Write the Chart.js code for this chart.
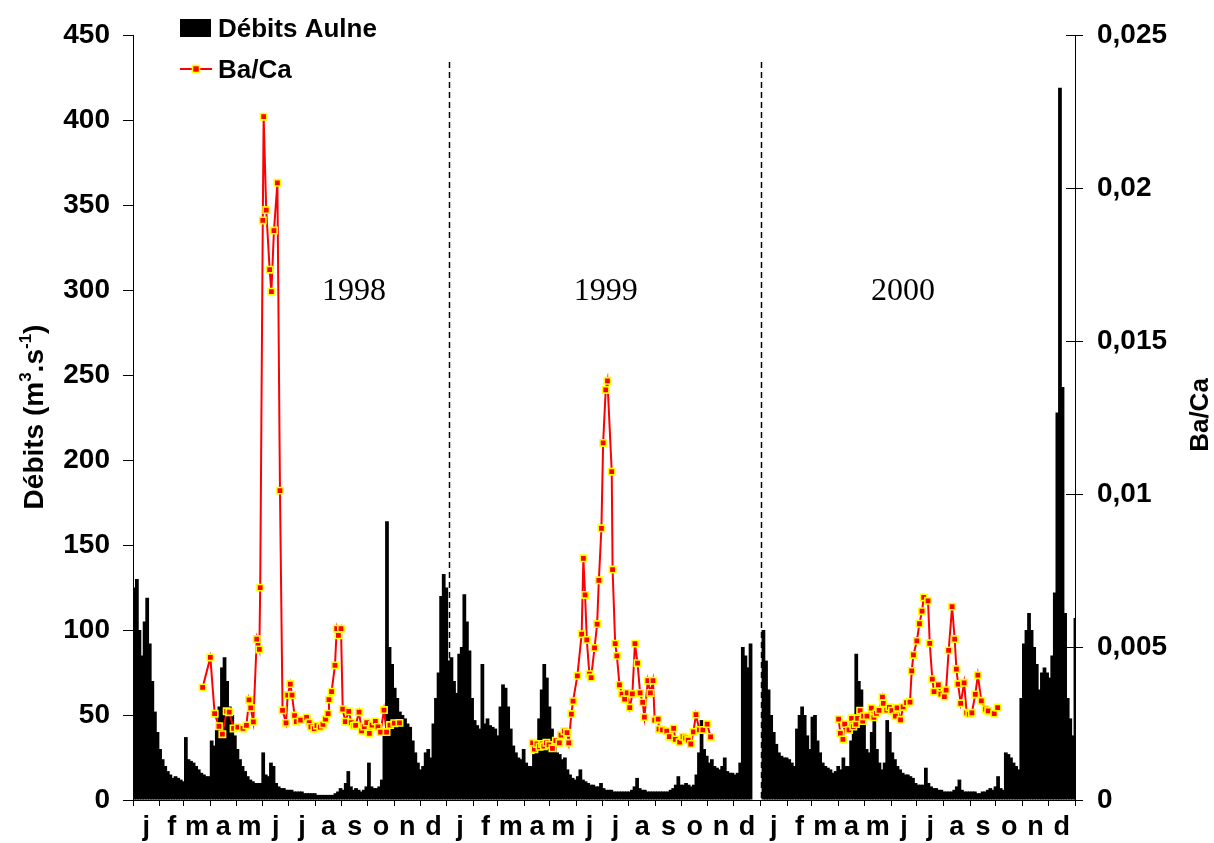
<!DOCTYPE html>
<html lang="fr">
<head>
<meta charset="UTF-8">
<title>Débits Aulne et Ba/Ca</title>
<style>
  html, body { margin: 0; padding: 0; background: #fff; }
  #cadre { width: 1214px; height: 843px; position: relative; }
</style>
</head>
<body>
<div id="cadre"><canvas id="graphe"></canvas></div>

<script src="https://cdn.jsdelivr.net/npm/chart.js"></script>
<script>
// débits de l'Aulne (m3/s), un pas = 3 jours, à partir du 1er janvier de chaque année
const debits1998 = [125,130,100,85,105,119,92,70,52,40, 30,24,20,17,15,13,14,13,12,11,
  37,24,23,22,20,18,16,15,14,14, 35,32,42,55,78,84,70,55,50,38,
  30,24,20,17,14,12,11,10,10,10, 28,15,14,22,20,10,8,7,7,6,
  6,6,5,5,5,5,4,4,4,4, 4,3,3,3,3,3,3,3,4,5,
  7,6,10,17,8,6,7,6,5,6, 8,22,8,7,7,8,12,40,164,90,
  80,66,60,52,50,48,45,43,35,28, 22,18,20,28,30,25,45,60,75,120,133,125]
const debits1999 = [82,84,70,63,86,90,121,105,88,60, 47,44,42,80,45,48,44,43,42,38,
  55,68,66,55,42,32,28,25,24,30, 22,20,20,27,35,48,65,80,72,55,
  42,32,28,27,24,25,18,15,13,12, 14,18,12,11,10,9,9,8,8,10,
  7,6,6,6,5,5,5,5,5,5, 5,6,8,13,7,6,6,5,5,5,
  5,5,5,5,5,5,6,7,9,14, 9,9,10,9,8,9,15,28,47,30,
  26,22,24,20,19,18,20,25,17,16, 16,15,16,22,90,85,78,92,null,null,null,null]
const debits2000 = [100,82,65,50,40,33,28,26,25,25, 24,22,20,42,50,55,50,38,30,49,
  50,35,28,22,20,19,18,16,17,20, 18,25,20,20,35,50,86,70,65,45,
  30,28,40,49,30,22,18,22,47,40, 28,24,20,18,16,15,15,14,13,10,
  9,9,9,19,10,8,7,7,6,6, 5,5,5,5,6,8,12,6,5,5,
  5,5,5,4,4,5,5,6,7,6, 8,14,7,6,28,27,25,22,20,18,
  60,92,100,110,100,90,80,65,75,78, 75,72,85,122,228,419,243,110,60,48,38,107]
const pasJours = 3

// Ba/Ca : jour compté depuis le 1er janvier 1998
const baJours1998 = [81,90,95,100,104,109,112,117,122,128,132,135,137,140,144,147,148,151,152,155,
  159,161,164,168,171,174,178,180,183,185,188,190,195,202,205,207,211,214,218,221,
  224,227,228,231,235,237,239,242,244,247,251,254,257,259,263,266,269,272,275,278,
  282,285,288,292,295,299,304,310]
const baCa1998 = [0.00368,0.00466,0.00282,0.00241,0.00215,0.00290,0.00287,0.00234,0.00238,0.00234,
  0.00244,0.00327,0.00301,0.00255,0.00526,0.00492,0.00694,0.01894,0.02233,0.01928,
  0.01733,0.01661,0.01861,0.02017,0.01011,0.00293,0.00252,0.00343,0.00379,0.00343,
  0.00276,0.00256,0.00261,0.00270,0.00253,0.00239,0.00233,0.00243,0.00238,0.00247,
  0.00264,0.00282,0.00328,0.00354,0.00440,0.00560,0.00538,0.00560,0.00297,0.00256,
  0.00290,0.00253,0.00242,0.00244,0.00287,0.00226,0.00240,0.00253,0.00218,0.00245,
  0.00257,0.00239,0.00222,0.00294,0.00222,0.00245,0.00251,0.00252]
const baJours1999 = [465,467,470,473,476,478,481,484,488,492,496,498,502,505,507,510,512,517,522,524,
  526,528,531,533,537,540,542,545,547,550,552,557,558,561,563,566,569,572,575,578,
  581,584,587,590,593,595,599,602,605,607,611,612,616,621,624,629,631,636,640,643,
  646,649,652,655,659,663,668,672]
const baCa1999 = [0.00187,0.00166,0.00183,0.00174,0.00183,0.00176,0.00187,0.00180,0.00169,0.00194,
  0.00187,0.00212,0.00225,0.00220,0.00187,0.00281,0.00323,0.00406,0.00542,0.00790,
  0.00670,0.00523,0.00411,0.00400,0.00497,0.00575,0.00718,0.00888,0.01167,0.01340,
  0.01370,0.01073,0.00753,0.00511,0.00471,0.00376,0.00346,0.00330,0.00350,0.00302,
  0.00347,0.00511,0.00447,0.00350,0.00319,0.00271,0.00390,0.00350,0.00390,0.00261,
  0.00264,0.00232,0.00229,0.00225,0.00207,0.00234,0.00198,0.00189,0.00207,0.00202,
  0.00196,0.00183,0.00223,0.00279,0.00229,0.00229,0.00248,0.00206]
const baJours2000 = [821,823,826,828,833,836,838,841,843,846,849,850,854,859,862,865,868,872,873,877,
  880,883,887,889,893,896,900,904,906,908,912,915,918,920,925,927,930,932,937,940,
  944,946,949,953,956,958,960,963,967,970,973,976,980,983,987,992,995,1002,1006]
const baCa2000 = [0.00264,0.00218,0.00198,0.00248,0.00229,0.00267,0.00240,0.00248,0.00267,0.00292,
  0.00258,0.00274,0.00274,0.00300,0.00270,0.00283,0.00293,0.00336,0.00316,0.00294,
  0.00303,0.00292,0.00274,0.00301,0.00262,0.00304,0.00318,0.00320,0.00422,0.00474,
  0.00520,0.00576,0.00617,0.00662,0.00651,0.00512,0.00395,0.00354,0.00376,0.00346,
  0.00338,0.00359,0.00489,0.00632,0.00526,0.00428,0.00379,0.00316,0.00383,0.00285,
  0.00281,0.00285,0.00345,0.00408,0.00324,0.00297,0.00291,0.00282,0.00302]

const moisLettres = ['j','f','m','a','m','j','j','a','s','o','n','d']
const debutMois = [0,31,59,90,120,151,181,212,243,273,304,334,
  365,396,424,455,485,516,546,577,608,638,669,699,
  730,761,790,821,851,882,912,943,974,1004,1035,1065,1096]
const annees = ['1998','1999','2000']
const anneesJour = [257,550,896]      // position des étiquettes d'année
const separations = [367.5,730.5]     // traits pointillés entre les années

const police = 'Liberation Sans, Arial, Helvetica, sans-serif'
Chart.defaults.font.family = police
Chart.defaults.color = '#000'

// barres : un point tous les 3 jours, à la suite
const pointsDebits = []
;[debits1998, debits1999, debits2000].flat().forEach((v, i) => {
  pointsDebits.push({ x: i * pasJours + pasJours / 2, y: v })
})
const zip = (xs, ys) => xs.map((x, i) => ({ x: x, y: ys[i] }))

// ticks de l'axe des x : limites de mois (traits) + milieux (lettres)
const etiquettesMois = new Map()
for (let i = 0; i < debutMois.length - 1; i++) {
  etiquettesMois.set((debutMois[i] + debutMois[i + 1]) / 2, moisLettres[i % 12])
}

const styleBa = {
  type: 'line',
  yAxisID: 'y1',
  borderColor: '#ff0000',
  borderWidth: 2,
  tension: 0,
  pointStyle: 'rect',
  pointRadius: 4.5,
  pointBackgroundColor: '#ff0000',
  pointBorderColor: '#ffff00',
  pointBorderWidth: 1.6,
  order: 1
}

const decor = {
  id: 'decor',
  afterDraw(chart) {
    const { ctx, chartArea, scales } = chart
    const x = scales.x, y = scales.y, y1 = scales.y1
    ctx.save()

    // séparations des années
    ctx.strokeStyle = '#000'
    ctx.lineWidth = 1.5
    ctx.setLineDash([6, 4])
    separations.forEach(d => {
      const px = Math.round(x.getPixelForValue(d)) + 0.5
      ctx.beginPath()
      ctx.moveTo(px, 62)
      ctx.lineTo(px, chartArea.bottom)
      ctx.stroke()
    })
    ctx.setLineDash([])

    // années
    ctx.font = '32px "Liberation Serif", "Times New Roman", serif'
    ctx.textAlign = 'center'
    ctx.textBaseline = 'alphabetic'
    annees.forEach((a, i) => ctx.fillText(a, x.getPixelForValue(anneesJour[i]), y.getPixelForValue(294)))

    // petits traits intérieurs de l'axe de droite
    ctx.lineWidth = 1
    ctx.strokeStyle = '#000'
    y1.ticks.forEach(t => {
      const py = Math.round(y1.getPixelForValue(t.value)) + 0.5
      ctx.beginPath()
      ctx.moveTo(chartArea.right - 9, py)
      ctx.lineTo(chartArea.right, py)
      ctx.stroke()
    })

    // légende
    ctx.fillStyle = '#000'
    ctx.fillRect(180, 19, 31, 18)
    ctx.font = 'bold 26px ' + police
    ctx.textAlign = 'left'
    ctx.fillText('Débits Aulne', 218, 37)
    ctx.strokeStyle = '#ff0000'
    ctx.lineWidth = 2
    ctx.beginPath()
    ctx.moveTo(180, 69)
    ctx.lineTo(212, 69)
    ctx.stroke()
    ctx.fillStyle = '#ff0000'
    ctx.strokeStyle = '#ffff00'
    ctx.lineWidth = 1.6
    ctx.fillRect(192.5, 65.5, 7, 7)
    ctx.strokeRect(192.5, 65.5, 7, 7)
    ctx.fillStyle = '#000'
    ctx.fillText('Ba/Ca', 218, 78)

    // titre de l'axe de gauche avec exposants
    ctx.translate(33, 417)
    ctx.rotate(-Math.PI / 2)
    const morceaux = [['Débits (m', 0], ['3', 1], ['.s', 0], ['-1', 1], [')', 0]]
    const fnt = e => e ? 'bold 17px ' + police : 'bold 28px ' + police
    let total = 0
    morceaux.forEach(m => { ctx.font = fnt(m[1]); total += ctx.measureText(m[0]).width })
    let cx = -total / 2
    ctx.textBaseline = 'alphabetic'
    morceaux.forEach(m => {
      ctx.font = fnt(m[1])
      ctx.fillText(m[0], cx, m[1] ? -2 : 10)
      cx += ctx.measureText(m[0]).width
    })
    ctx.restore()

    // titre de l'axe de droite
    ctx.save()
    ctx.translate(1201, 415)
    ctx.rotate(-Math.PI / 2)
    ctx.font = 'bold 26px ' + police
    ctx.textAlign = 'center'
    ctx.textBaseline = 'middle'
    ctx.fillStyle = '#000'
    ctx.fillText('Ba/Ca', 0, 0)
    ctx.restore()
  }
}

new Chart(document.getElementById('graphe'), {
  data: {
    datasets: [
      Object.assign({ data: zip(baJours1998, baCa1998) }, styleBa),
      Object.assign({ data: zip(baJours1999, baCa1999) }, styleBa),
      Object.assign({ data: zip(baJours2000, baCa2000) }, styleBa),
      {
        type: 'bar',
        label: 'Débits Aulne',
        data: pointsDebits,
        yAxisID: 'y',
        backgroundColor: '#000',
        borderWidth: 0,
        barPercentage: 1.45,
        categoryPercentage: 1,
        grouped: false,
        order: 2
      }
    ]
  },
  options: {
    responsive: true,
    maintainAspectRatio: false,
    animation: false,
    layout: { padding: { top: 35, left: 0, right: 0, bottom: 0 } },
    plugins: { legend: { display: false }, tooltip: { enabled: false } },
    scales: {
      x: {
        type: 'linear',
        position: 'bottom',
        offset: false,
        min: 0,
        max: 1096,
        afterBuildTicks: axe => {
          const t = []
          debutMois.forEach(v => t.push({ value: v }))
          etiquettesMois.forEach((l, v) => t.push({ value: v }))
          t.sort((a, b) => a.value - b.value)
          axe.ticks = t
        },
        afterFit: axe => { axe.height = 43 },
        ticks: {
          autoSkip: false,
          maxRotation: 0,
          padding: 5,
          font: { size: 27, weight: 'bold' },
          callback: v => etiquettesMois.get(v) || ''
        },
        grid: {
          drawOnChartArea: false,
          offset: false,
          tickLength: 6,
          tickColor: c => (c.tick && etiquettesMois.has(c.tick.value)) ? 'rgba(0,0,0,0)' : '#000'
        },
        border: { color: '#000', width: 1 }
      },
      y: {
        position: 'left',
        min: 0,
        max: 450,
        afterFit: axe => { axe.width = 133 },
        ticks: { stepSize: 50, padding: 13, font: { size: 28, weight: 'bold' } },
        grid: { drawOnChartArea: false, tickLength: 10, tickColor: '#000' },
        border: { color: '#000', width: 1 }
      },
      y1: {
        position: 'right',
        min: 0,
        max: 0.025,
        afterFit: axe => { axe.width = 139 },
        ticks: {
          stepSize: 0.005,
          padding: 14,
          font: { size: 28, weight: 'bold' },
          callback: v => v === 0 ? '0' : String(parseFloat(v.toFixed(3))).replace('.', ',')
        },
        grid: { drawOnChartArea: false, tickLength: 8, tickColor: '#000' },
        border: { color: '#000', width: 1 }
      }
    }
  },
  plugins: [decor]
})
</script>
</body>
</html>
